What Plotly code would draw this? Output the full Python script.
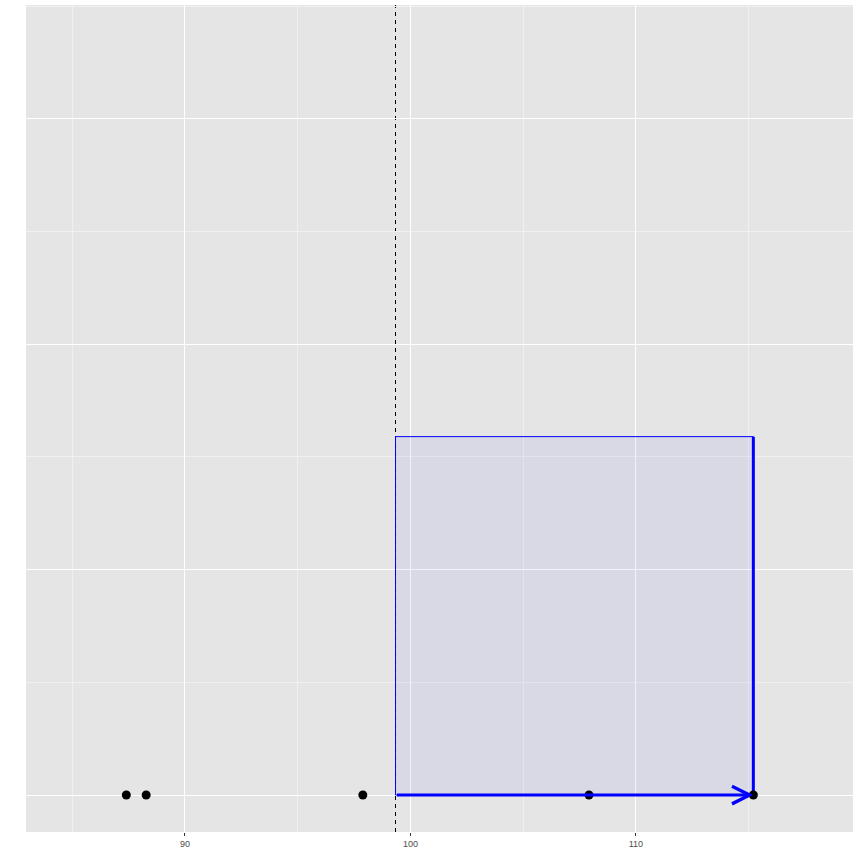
import numpy as np
import plotly.graph_objects as go

# data
x_points = [87.40, 88.28, 97.89, 107.92, 115.21]
y_points = [0, 0, 0, 0, 0]
rect_top = 1.59
x_mean = float(np.mean(x_points))
x_max = max(x_points)
x_ticks = [90, 100, 110]
x_range = [82.95, 119.63]
y_range = [-0.164, 3.505]

fig = go.Figure()

# shaded rectangle
fig.add_shape(type="rect", xref="x", yref="y",
              x0=x_mean, x1=x_max, y0=0, y1=rect_top,
              fillcolor="rgba(0,0,255,0.05)",
              line=dict(color="blue", width=1), layer="between")

# dashed mean line
fig.add_shape(type="line", xref="x", yref="paper",
              x0=x_mean, x1=x_mean, y0=0, y1=1,
              line=dict(color="black", width=1, dash="4px,4px"), layer="between")

# thick vertical line at right side
fig.add_trace(go.Scatter(x=[x_max, x_max], y=[0, rect_top], mode="lines",
                         line=dict(color="blue", width=3), hoverinfo="skip",
                         showlegend=False))

# arrow along the bottom
fig.add_annotation(x=x_max, y=0, ax=x_mean, ay=0, xref="x", yref="y",
                   axref="x", ayref="y", text="", showarrow=True,
                   arrowhead=5, arrowsize=1.15, arrowwidth=3, arrowcolor="blue",
                   standoff=0, startstandoff=0)

# points
fig.add_trace(go.Scatter(x=x_points, y=y_points, mode="markers",
                         marker=dict(color="black", size=9),
                         showlegend=False))

fig.update_layout(
    width=864, height=864,
    margin=dict(l=26, r=11, t=5, b=32),
    paper_bgcolor="white",
    plot_bgcolor="#E5E5E5",
    showlegend=False,
    font=dict(family="Liberation Sans, Arial, sans-serif"),
)
fig.update_xaxes(range=x_range, tickvals=x_ticks, ticktext=[str(t) for t in x_ticks],
                 showgrid=True, gridcolor="white", gridwidth=1.1,
                 minor=dict(tickvals=[85, 95, 105, 115], showgrid=True,
                            gridcolor="#F0F0F0", gridwidth=0.6, ticks=""),
                 zeroline=False, showline=False,
                 ticks="outside", ticklen=3, tickwidth=1, tickcolor="#333333",
                 tickfont=dict(size=9, color="#4D4D4D"))
fig.update_yaxes(range=y_range, tickvals=[0, 1, 2, 3], showticklabels=False,
                 showgrid=True, gridcolor="white", gridwidth=1.1,
                 minor=dict(tickvals=[0.5, 1.5, 2.5, 3.5], showgrid=True,
                            gridcolor="#F0F0F0", gridwidth=0.6, ticks=""),
                 zeroline=False, showline=False, ticks="")

fig.write_html("out.html", config={"displayModeBar": False},
               post_script="document.body.style.margin='0';document.body.style.overflow='hidden';")
